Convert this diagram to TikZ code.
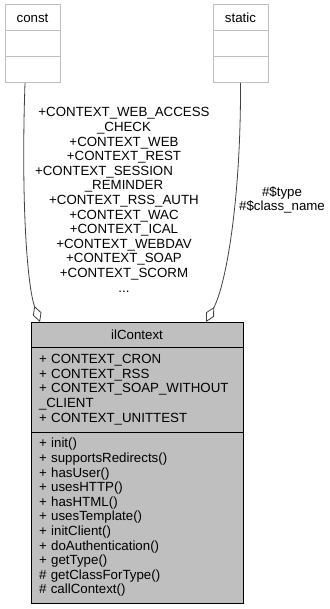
\documentclass[tikz,border=0pt]{standalone}
\usepackage{fontspec}
\setmainfont{Liberation Sans}
\usepackage{tikz}
\usetikzlibrary{arrows.meta,positioning}
\usepackage{xcolor}
\definecolor{umlfill}{HTML}{BFBFBF}
\definecolor{umlline}{HTML}{BFBFBF}
\definecolor{edgegray}{HTML}{404040}

\begin{document}
\begin{tikzpicture}[x=1pt, y=-1pt,
    every node/.style={font=\fontsize{13.3}{14.6}\selectfont},
    part/.style={draw, outer sep=0pt, inner sep=0pt, line width=1pt},
    emptypart/.style={part, draw=umlline, fill=white, minimum width=55pt, minimum height=26pt},
    classpart/.style={part, draw=black, fill=umlfill, minimum width=212pt},
    member/.style={classpart, align=left, text width=196pt, inner xsep=8pt},
    agg/.style={edgegray, line width=0.8pt, -{Diamond[fill=white, length=17pt, width=9pt]}}]
    \useasboundingbox (0,0) rectangle (329,609);

    % Used classes
    \node[emptypart] (const) at (32.5,18) {const};
    \node[emptypart, below=0pt of const] (constattr) {};
    \node[emptypart, below=0pt of constattr] (constops) {};

    \node[emptypart] (static) at (240.5,18) {static};
    \node[emptypart, below=0pt of static] (staticattr) {};
    \node[emptypart, below=0pt of staticattr] (staticops) {};

    % ilContext
    \node[classpart, minimum height=25pt] (ilctitle) at (137,334.5) {ilContext};
    \node[member, minimum height=85pt, below=0pt of ilctitle] (ilcattr) {%
        + CONTEXT\_CRON\\
        + CONTEXT\_RSS\\
        + CONTEXT\_SOAP\_WITHOUT\\
        \_CLIENT\\
        + CONTEXT\_UNITTEST};
    \node[member, minimum height=171pt, below=0pt of ilcattr] (ilcops) {%
        + init()\\
        + supportsRedirects()\\
        + hasUser()\\
        + usesHTTP()\\
        + hasHTML()\\
        + usesTemplate()\\
        + initClient()\\
        + doAuthentication()\\
        + getType()\\
        \# getClassForType()\\
        \# callContext()};

    % Aggregation edges
    \draw[agg] ([xshift=-7.5pt]constops.south) .. controls (21,200) and (27,285) .. ([xshift=9pt]ilctitle.north west);
    \draw[agg] (staticops.south) .. controls (241,200) and (226,285) .. ([xshift=69pt]ilctitle.north);

    \node[align=center, anchor=north] (constlbl) at (124,104) {%
        +CONTEXT\_WEB\_ACCESS\\
        \_CHECK\\
        +CONTEXT\_WEB\\
        +CONTEXT\_REST\\
        +CONTEXT\_SESSION\rule{40pt}{0pt}\\
        \_REMINDER\\
        +CONTEXT\_RSS\_AUTH\\
        +CONTEXT\_WAC\\
        +CONTEXT\_ICAL\\
        +CONTEXT\_WEBDAV\\
        +CONTEXT\_SOAP\\
        +CONTEXT\_SCORM\\
        ...};
    \node[align=center] (staticlbl) at (282,200) {\#\$type\\\#\$class\_name};
\end{tikzpicture}
\end{document}
